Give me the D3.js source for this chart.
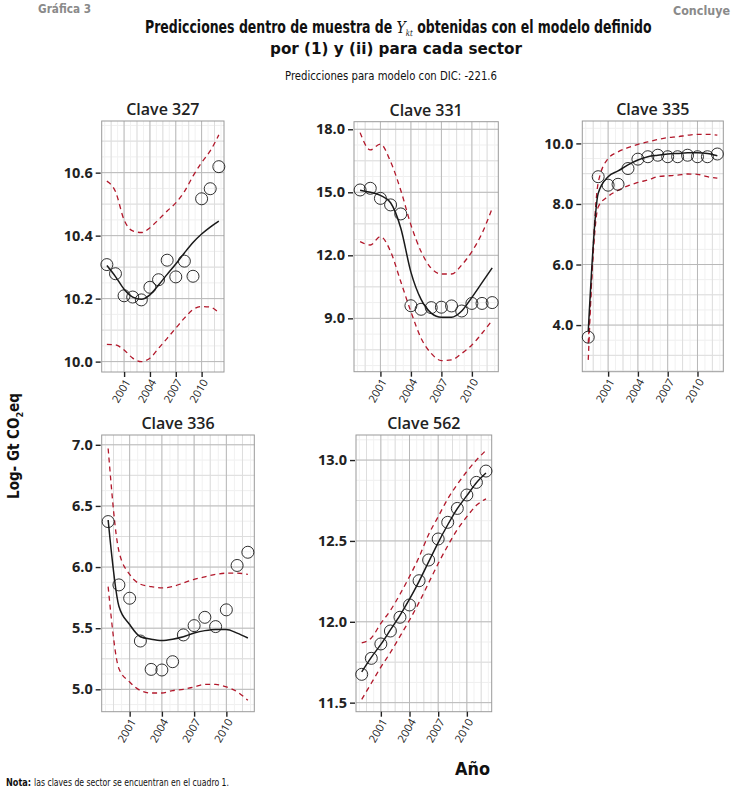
<!DOCTYPE html>
<html>
<head>
<meta charset="utf-8">
<script src="https://cdn.jsdelivr.net/npm/d3@7"></script>
<style>
  html, body { margin: 0; padding: 0; background: #fff; }
  svg { display: block; }
  .cond { font-family: "Liberation Sans Narrow", "DejaVu Sans Condensed", "Roboto", sans-serif; }
  .pan { font-family: "Open Sans", "Noto Sans", sans-serif; }
</style>
</head>
<body>
<svg id="chart" width="752" height="790"></svg>
<script>
// ---------------- DATA ----------------
const years = [1999, 2000, 2001, 2002, 2003, 2004, 2005, 2006, 2007, 2008, 2009, 2010, 2011, 2012];
const xTickYears = [2001, 2004, 2007, 2010];

const obs327 = [10.308, 10.279, 10.209, 10.205, 10.196, 10.236, 10.260, 10.322, 10.269, 10.319, 10.271, 10.517, 10.549, 10.619];
const fit327 = [10.305, 10.270, 10.230, 10.205, 10.198, 10.212, 10.243, 10.277, 10.310, 10.345, 10.378, 10.405, 10.427, 10.446];
const up327  = [10.573, 10.540, 10.450, 10.415, 10.410, 10.425, 10.451, 10.478, 10.504, 10.540, 10.589, 10.632, 10.669, 10.720];
const lo327  = [10.055, 10.053, 10.037, 10.011, 10.000, 10.011, 10.042, 10.074, 10.106, 10.138, 10.165, 10.175, 10.173, 10.155];

const obs331 = [15.11, 15.19, 14.71, 14.40, 13.97, 9.60, 9.43, 9.51, 9.53, 9.59, 9.35, 9.71, 9.71, 9.75];
const fit331 = [15.10, 15.00, 14.85, 14.50, 13.30, 11.20, 9.90, 9.25, 9.05, 9.05, 9.35, 10.00, 10.70, 11.40];
const up331  = [17.84, 17.02, 17.29, 16.46, 15.10, 13.45, 12.18, 11.38, 11.11, 11.11, 11.54, 12.18, 13.05, 14.24];
const lo331  = [12.65, 12.49, 12.89, 12.18, 10.75, 9.32, 8.05, 7.33, 6.99, 7.02, 7.33, 7.73, 8.29, 8.90];

const obs335 = [3.60, 8.90, 8.62, 8.65, 9.17, 9.48, 9.56, 9.61, 9.56, 9.56, 9.61, 9.56, 9.56, 9.65];
const fit335 = [3.80, 8.35, 8.90, 9.09, 9.29, 9.45, 9.56, 9.61, 9.65, 9.67, 9.69, 9.69, 9.67, 9.59];
const up335  = [2.85, 8.70, 9.50, 9.72, 9.86, 9.97, 10.05, 10.13, 10.19, 10.22, 10.27, 10.30, 10.30, 10.27];
const lo335  = [3.40, 7.90, 8.25, 8.45, 8.60, 8.71, 8.79, 8.90, 8.93, 8.95, 8.99, 8.98, 8.90, 8.85];

const obs336 = [6.372, 5.854, 5.745, 5.395, 5.163, 5.158, 5.226, 5.445, 5.521, 5.589, 5.513, 5.650, 6.013, 6.121];
const fit336 = [6.385, 5.680, 5.530, 5.430, 5.410, 5.400, 5.410, 5.430, 5.460, 5.480, 5.490, 5.490, 5.460, 5.420];
const up336  = [6.97, 6.13, 5.94, 5.86, 5.84, 5.83, 5.84, 5.87, 5.90, 5.92, 5.94, 5.95, 5.95, 5.94];
const lo336  = [5.84, 5.17, 5.06, 4.99, 4.97, 4.97, 4.99, 5.00, 5.02, 5.04, 5.04, 5.02, 4.98, 4.91];

const obs562 = [11.675, 11.774, 11.863, 11.943, 12.028, 12.104, 12.254, 12.382, 12.512, 12.615, 12.701, 12.784, 12.862, 12.932];
const fit562 = [11.69, 11.78, 11.86, 11.95, 12.04, 12.14, 12.25, 12.37, 12.49, 12.60, 12.70, 12.78, 12.86, 12.92];
const up562  = [11.87, 11.90, 11.99, 12.07, 12.17, 12.28, 12.40, 12.54, 12.65, 12.76, 12.85, 12.93, 13.00, 13.06];
const lo562  = [11.52, 11.62, 11.72, 11.81, 11.91, 12.01, 12.12, 12.24, 12.36, 12.47, 12.57, 12.65, 12.72, 12.76];

const ticks327 = [10.0, 10.2, 10.4, 10.6];
const ticks331 = [9.0, 12.0, 15.0, 18.0];
const ticks335 = [4.0, 6.0, 8.0, 10.0];
const ticks336 = [5.0, 5.5, 6.0, 6.5, 7.0];
const ticks562 = [11.5, 12.0, 12.5, 13.0];

// ---------------- LAYOUT ----------------
const panels = [
  { name: "Clave 327", box: [101.7, 121, 224, 372],     yDom: [9.967, 10.764], ticks: ticks327, obs: obs327, fit: fit327, up: up327, lo: lo327 },
  { name: "Clave 331", box: [354, 121.7, 498.3, 371.7], yDom: [6.46, 18.36],   ticks: ticks331, obs: obs331, fit: fit331, up: up331, lo: lo331 },
  { name: "Clave 335", box: [582.3, 121, 723.3, 371.7], yDom: [2.46, 10.74],   ticks: ticks335, obs: obs335, fit: fit335, up: up335, lo: lo335 },
  { name: "Clave 336", box: [101.7, 435, 254.3, 711.7], yDom: [4.817, 7.08],   ticks: ticks336, obs: obs336, fit: fit336, up: up336, lo: lo336 },
  { name: "Clave 562", box: [356, 435, 491.7, 711.7],   yDom: [11.444, 13.155], ticks: ticks562, obs: obs562, fit: fit562, up: up562, lo: lo562 }
];
const xDom = [1998.4, 2012.6];

const svg = d3.select("#chart");

panels.forEach(p => {
  const [x0, y0, x1, y1] = p.box;
  const x = d3.scaleLinear().domain(xDom).range([x0, x1]);
  const y = d3.scaleLinear().domain(p.yDom).range([y1, y0]);
  const g = svg.append("g").attr("class", "pan");

  g.append("rect").attr("x", x0).attr("y", y0).attr("width", x1 - x0).attr("height", y1 - y0).attr("fill", "#fff");

  // grid
  const step = p.ticks[1] - p.ticks[0];
  const inY = v => v >= p.yDom[0] && v <= p.yDom[1];
  const sub = d3.range(-8, 40).map(i => p.ticks[0] + i * step / 4).filter(inY);
  const minorY = d3.range(-4, 20).map(i => p.ticks[0] + (i + 0.5) * step).filter(inY);
  const minorX = xTickYears.map(t => t - 1.5).concat([xTickYears[xTickYears.length - 1] + 1.5]);
  const subX = d3.range(-4, 24).map(i => 2001 + i * 0.75).filter(v => v > xDom[0] && v < xDom[1]);

  g.selectAll(".gs").data(sub).join("line")
    .attr("x1", x0).attr("x2", x1).attr("y1", d => y(d)).attr("y2", d => y(d))
    .attr("stroke", "#efefef").attr("stroke-width", 1);
  g.selectAll(".gsx").data(subX).join("line")
    .attr("y1", y0).attr("y2", y1).attr("x1", d => x(d)).attr("x2", d => x(d))
    .attr("stroke", "#f1f1f1").attr("stroke-width", 1);
  g.selectAll(".gmy").data(minorY).join("line")
    .attr("x1", x0).attr("x2", x1).attr("y1", d => y(d)).attr("y2", d => y(d))
    .attr("stroke", "#dedede").attr("stroke-width", 1);
  g.selectAll(".gmx").data(minorX).join("line")
    .attr("y1", y0).attr("y2", y1).attr("x1", d => x(d)).attr("x2", d => x(d))
    .attr("stroke", "#dedede").attr("stroke-width", 1);
  g.selectAll(".gMy").data(p.ticks).join("line")
    .attr("x1", x0).attr("x2", x1).attr("y1", d => y(d)).attr("y2", d => y(d))
    .attr("stroke", "#b8b8b8").attr("stroke-width", 1);
  g.selectAll(".gMx").data(xTickYears).join("line")
    .attr("y1", y0).attr("y2", y1).attr("x1", d => x(d)).attr("x2", d => x(d))
    .attr("stroke", "#b8b8b8").attr("stroke-width", 1);

  g.append("rect").attr("x", x0).attr("y", y0).attr("width", x1 - x0).attr("height", y1 - y0)
    .attr("fill", "none").attr("stroke", "#9a9a9a").attr("stroke-width", 1);

  // axes
  const ya = g.append("g").attr("transform", `translate(${x0 - 1},0)`)
    .call(d3.axisLeft(y).tickValues(p.ticks).tickSize(5).tickPadding(3).tickFormat(d3.format(".1f")));
  ya.select(".domain").remove();
  ya.selectAll("line").attr("stroke", "#222").attr("stroke-width", 1.4);
  ya.selectAll("text").attr("fill", "#222").style("font-size", "14.5px").style("font-weight", "700")
    .style("font-family", "'Open Sans', sans-serif");

  const xa = g.append("g").attr("transform", `translate(0,${y1})`)
    .call(d3.axisBottom(x).tickValues(xTickYears).tickSize(5).tickFormat(d3.format("d")));
  xa.select(".domain").remove();
  xa.selectAll("line").attr("stroke", "#222").attr("stroke-width", 1.4);
  xa.selectAll("text").attr("fill", "#222").style("font-size", "11px")
    .style("font-family", "'Open Sans', sans-serif")
    .attr("text-anchor", "end").attr("dy", "0.35em")
    .attr("transform", "translate(3,8) rotate(-60)").attr("y", 0).attr("x", 0);

  // title
  g.append("text").attr("x", (x0 + x1) / 2).attr("y", y0 - 6)
    .attr("text-anchor", "middle").attr("fill", "#222")
    .style("font-size", "16px").style("font-weight", "600").text(p.name);

  // lines
  const mk = arr => years.map((yr, i) => ({ yr, v: arr[i] }));
  const line = d3.line().x(d => x(d.yr)).y(d => y(d.v)).curve(d3.curveMonotoneX);
  [p.up, p.lo].forEach(arr => {
    g.append("path").attr("d", line(mk(arr))).attr("fill", "none")
      .attr("stroke", "#b2182b").attr("stroke-width", 1.3).attr("stroke-dasharray", "5,4");
  });
  g.append("path").attr("d", line(mk(p.fit))).attr("fill", "none")
    .attr("stroke", "#1a1a1a").attr("stroke-width", 1.5);

  g.selectAll(".pt").data(mk(p.obs)).join("circle")
    .attr("cx", d => x(d.yr)).attr("cy", d => y(d.v)).attr("r", 6)
    .attr("fill", "none").attr("stroke", "#1a1a1a").attr("stroke-width", 0.9);
});

// ---------------- TEXTS ----------------
function condText(txt, x, y, len, size, weight, color, anchor) {
  return svg.append("text").attr("class", "cond").attr("x", x).attr("y", y)
    .attr("text-anchor", anchor || "start")
    .attr("fill", color).style("font-size", size + "px").style("font-weight", weight)
    .attr("textLength", len).attr("lengthAdjust", "spacingAndGlyphs").text(txt);
}

condText("Gráfica 3", 38, 13, 53, 12, "bold", "#8a8a8a");
condText("Concluye", 673, 15, 57, 13, "bold", "#8a8a8a");

// Title line 1 as a single text, horizontally scaled to the reference width
const t1 = svg.append("text").attr("class", "cond").attr("x", 0).attr("y", 0)
  .attr("fill", "#111").style("font-size", "17px").style("font-weight", "bold");
t1.append("tspan").text("Predicciones dentro de muestra de ");
t1.append("tspan").style("font-family", "'DejaVu Serif', 'Liberation Serif', serif")
  .style("font-style", "italic").style("font-weight", "normal").text("Y");
t1.append("tspan").attr("dy", 2.5).style("font-family", "'DejaVu Serif', 'Liberation Serif', serif")
  .style("font-style", "italic").style("font-weight", "normal").style("font-size", "8.5px").text("kt");
t1.append("tspan").attr("dy", -2.5).text(" obtenidas con el modelo definido");
const w1 = t1.node().getComputedTextLength();
t1.attr("transform", `translate(145,33) scale(${507 / w1},1)`);

condText("por (1) y (ii) para cada sector", 270, 54, 252, 16, "bold", "#111");
condText("Predicciones para modelo con DIC: -221.6", 285, 80, 212, 13, "normal", "#111");

const yl = svg.append("text").attr("class", "cond")
  .attr("transform", "translate(19,446) rotate(-90)").attr("text-anchor", "middle")
  .attr("fill", "#111").style("font-size", "15px").style("font-weight", "bold");
yl.append("tspan").text("Log- Gt CO");
yl.append("tspan").attr("dy", 4).style("font-size", "9px").text("2");
yl.append("tspan").attr("dy", -4).text("eq");

condText("Año", 455, 775, 35, 17, "bold", "#111");

condText("Nota:", 6, 786, 25, 11, "bold", "#111");
condText("las claves de sector se encuentran en el cuadro 1.", 34, 786, 195, 11, "normal", "#111");
</script>
</body>
</html>
